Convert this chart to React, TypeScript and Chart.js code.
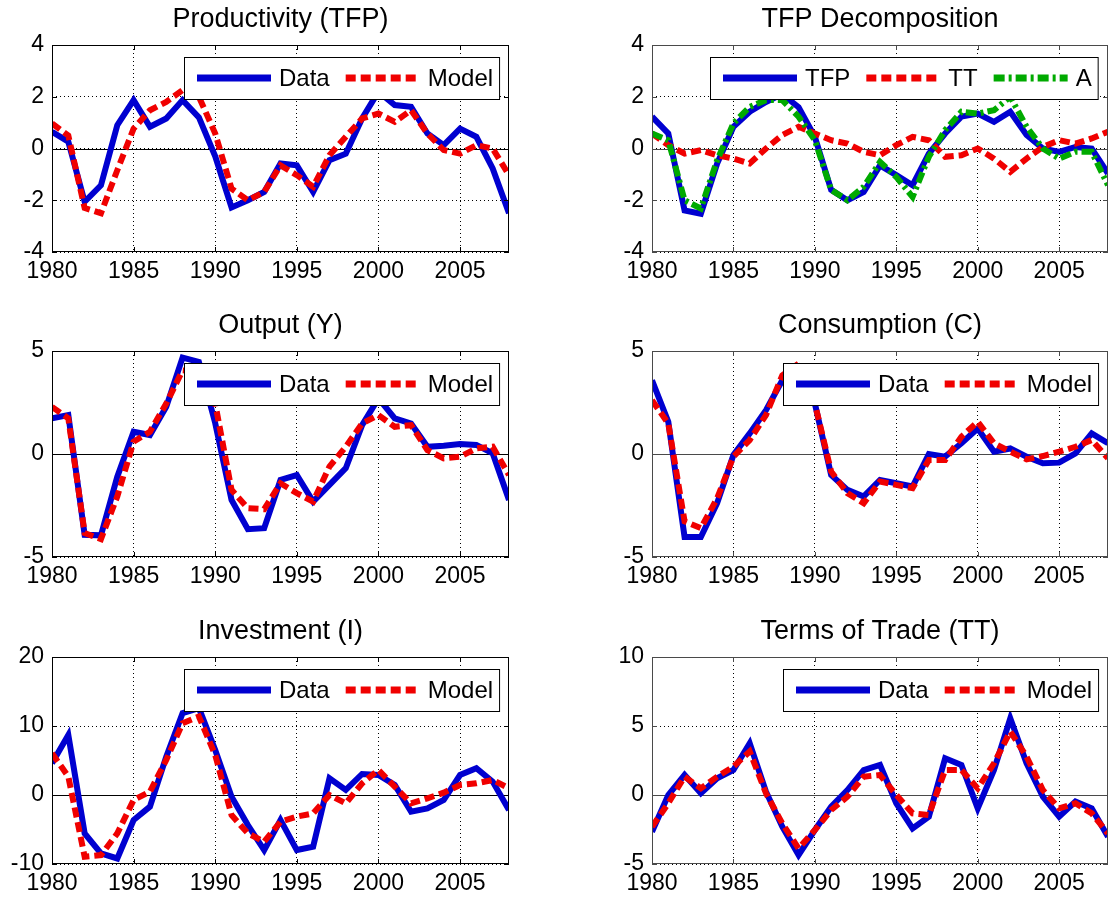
import React, { useEffect, useRef } from 'react';
import { Chart, registerables } from 'chart.js';

Chart.register(...registerables);

// ---------- data ----------
const years = [1980, 1981, 1982, 1983, 1984, 1985, 1986, 1987, 1988, 1989, 1990, 1991, 1992, 1993, 1994, 1995, 1996, 1997, 1998, 1999, 2000, 2001, 2002, 2003, 2004, 2005, 2006, 2007, 2008];
const xTicks = [1980, 1985, 1990, 1995, 2000, 2005];

const tfpData = [0.65, 0.26, -2.06, -1.42, 0.9, 1.87, 0.84, 1.16, 1.87, 1.2, -0.3, -2.28, -2.0, -1.68, -0.58, -0.65, -1.68, -0.45, -0.2, 1.16, 2.2, 1.68, 1.61, 0.58, 0.13, 0.77, 0.45, -0.77, -2.5];
const tfpModel = [0.97, 0.5, -2.3, -2.5, -0.84, 0.77, 1.48, 1.8, 2.26, 2.0, 0.58, -1.55, -2.0, -1.68, -0.65, -1.03, -1.48, -0.26, 0.45, 1.16, 1.35, 1.03, 1.48, 0.58, -0.06, -0.2, 0.13, 0.0, -1.03];

const decompTFP = [1.23, 0.58, -2.39, -2.52, -0.58, 0.84, 1.42, 1.8, 2.1, 1.6, 0.45, -1.6, -2.0, -1.68, -0.65, -1.03, -1.42, -0.2, 0.58, 1.23, 1.35, 1.03, 1.42, 0.52, 0.0, -0.13, 0.06, 0.0, -0.97];
const decompTT = [0.58, 0.13, -0.2, -0.06, -0.26, -0.39, -0.58, 0.0, 0.52, 0.84, 0.58, 0.32, 0.19, -0.13, -0.26, 0.13, 0.45, 0.32, -0.32, -0.26, 0.0, -0.39, -0.9, -0.39, 0.06, 0.32, 0.19, 0.39, 0.65];
const decompA = [0.58, 0.32, -2.0, -2.32, -0.45, 0.97, 1.61, 1.87, 1.87, 1.23, 0.32, -1.6, -2.0, -1.48, -0.52, -1.1, -1.87, -0.32, 0.71, 1.42, 1.35, 1.48, 2.0, 0.84, 0.0, -0.39, -0.13, -0.13, -1.42];

const outputData = [1.73, 1.89, -3.92, -3.95, -1.1, 1.08, 0.92, 2.29, 4.68, 4.47, 1.5, -2.23, -3.65, -3.6, -1.26, -1.02, -2.31, -1.5, -0.69, 1.4, 2.7, 1.73, 1.48, 0.35, 0.4, 0.48, 0.44, 0.03, -2.23];
const outputModel = [2.29, 1.73, -3.84, -4.13, -2.06, 0.6, 1.08, 2.45, 4.06, 4.0, 2.45, -1.74, -2.63, -2.68, -1.42, -1.9, -2.31, -0.61, 0.35, 1.48, 1.89, 1.32, 1.4, 0.19, -0.21, -0.13, 0.27, 0.35, -1.02];

const consData = [3.58, 1.56, -4.03, -4.03, -2.39, -0.05, 1.0, 2.13, 3.58, 4.2, 2.45, -1.02, -1.74, -2.06, -1.26, -1.42, -1.58, 0.0, -0.13, 0.52, 1.24, 0.11, 0.27, -0.13, -0.45, -0.42, 0.03, 1.0, 0.52];
const consModel = [2.61, 1.48, -3.27, -3.6, -2.15, -0.13, 0.68, 1.89, 3.82, 4.39, 2.45, -0.85, -1.9, -2.39, -1.34, -1.5, -1.66, -0.29, -0.29, 0.84, 1.56, 0.52, 0.11, -0.26, -0.1, 0.11, 0.35, 0.68, -0.21];

const invData = [4.6, 8.7, -5.56, -8.47, -9.2, -3.63, -1.69, 5.56, 11.85, 12.6, 6.53, -0.24, -4.35, -7.98, -3.63, -7.98, -7.5, 2.42, 0.73, 3.05, 2.9, 1.45, -2.42, -1.94, -0.73, 2.9, 3.87, 1.94, -2.18];
const invModel = [6.05, 2.66, -8.95, -8.71, -5.56, -0.73, 0.48, 5.08, 10.4, 11.37, 5.8, -2.9, -5.56, -6.77, -3.87, -3.14, -2.66, 0.0, -1.21, 1.69, 3.63, 1.21, -1.21, -0.48, 0.34, 1.45, 1.69, 2.18, 0.97];

const ttData = [-2.66, 0.0, 1.45, 0.12, 1.21, 1.81, 3.75, 0.24, -2.3, -4.35, -2.54, -0.85, 0.36, 1.81, 2.18, -0.6, -2.42, -1.57, 2.66, 2.18, -0.97, 1.81, 5.56, 2.3, -0.12, -1.57, -0.48, -0.97, -3.02];
const ttModel = [-2.3, -0.6, 1.33, 0.48, 1.33, 2.06, 3.15, 0.12, -2.06, -3.87, -2.54, -1.09, -0.12, 1.33, 1.45, 0.0, -1.33, -1.45, 1.81, 1.81, 0.48, 2.3, 4.6, 2.78, 0.36, -0.97, -0.6, -1.33, -2.78];

const yTicksTFP = [-4, -2, 0, 2, 4];
const yTicksDecomp = [-4, -2, 0, 2, 4];
const yTicksOutput = [-5, 0, 5];
const yTicksCons = [-5, 0, 5];
const yTicksInv = [-10, 0, 10, 20];
const yTicksTT = [-5, 0, 5, 10];

const titles = ['Productivity (TFP)', 'TFP Decomposition', 'Output (Y)', 'Consumption (C)', 'Investment (I)', 'Terms of Trade (TT)'];

// ---------- styles ----------
const BLUE = '#0000D0';
const RED = '#F00000';
const GREEN = '#00AA00';
const FONT = "'Liberation Sans', Arial, sans-serif";
const LINE_W = 6;

const solid = { color: BLUE, dash: [] as number[] };
const dashed = { color: RED, dash: [10, 5] };
const dashDot = { color: GREEN, dash: [11, 4, 3, 4] };

type Series = { label: string; data: number[]; style: { color: string; dash: number[] }; order: number };
type PanelCfg = { title: string; yTicks: number[]; series: Series[]; col: number; row: number };

const dm = (d: number[], m: number[]): Series[] => [
  { label: 'Data', data: d, style: solid, order: 2 },
  { label: 'Model', data: m, style: dashed, order: 1 },
];

const panels: PanelCfg[] = [
  { title: titles[0], yTicks: yTicksTFP, series: dm(tfpData, tfpModel), col: 0, row: 0 },
  {
    title: titles[1], yTicks: yTicksDecomp, col: 1, row: 0,
    series: [
      { label: 'TFP', data: decompTFP, style: solid, order: 3 },
      { label: 'TT', data: decompTT, style: dashed, order: 2 },
      { label: 'A', data: decompA, style: dashDot, order: 1 },
    ],
  },
  { title: titles[2], yTicks: yTicksOutput, series: dm(outputData, outputModel), col: 0, row: 1 },
  { title: titles[3], yTicks: yTicksCons, series: dm(consData, consModel), col: 1, row: 1 },
  { title: titles[4], yTicks: yTicksInv, series: dm(invData, invModel), col: 0, row: 2 },
  { title: titles[5], yTicks: yTicksTT, series: dm(ttData, ttModel), col: 1, row: 2 },
];

// ---------- layout ----------
const CELL_W = 556;
const ROW_TOP = [0, 300, 600];
const ROW_H = [300, 300, 303];
const AREA_TOP = [45, 51, 57];
const AREA_BOTTOM = [252, 257, 264];
const AREA_LEFT = [52, 96];
const AREA_RIGHT = [509, 552];
const Y_AXIS_W = 50;
const X_AXIS_H = 30;
const BOX_COLOR = ['#000000', '#4a4a4a'];

const framePlugin = {
  id: 'frame',
  beforeDatasetsDraw(chart: any, _args: any, opts: any) {
    const { ctx, chartArea, scales } = chart;
    const y0 = Math.round(scales.y.getPixelForValue(0)) + 0.5;
    ctx.save();
    ctx.strokeStyle = opts.boxColor;
    ctx.lineWidth = 1;
    ctx.beginPath();
    ctx.moveTo(chartArea.left, y0);
    ctx.lineTo(chartArea.right, y0);
    ctx.stroke();
    ctx.restore();
  },
  afterDatasetsDraw(chart: any, _args: any, opts: any) {
    const { ctx, chartArea, scales } = chart;
    const { left, right, top, bottom } = chartArea;
    ctx.save();
    // axes box
    ctx.strokeStyle = opts.boxColor;
    ctx.lineWidth = 1;
    ctx.strokeRect(left + 0.5, top + 0.5, right - left - 1, bottom - top - 1);
    // inward tick marks
    const TL = 5;
    ctx.beginPath();
    scales.x.ticks.forEach((t: any) => {
      const px = Math.round(scales.x.getPixelForValue(t.value)) + 0.5;
      ctx.moveTo(px, bottom); ctx.lineTo(px, bottom - TL);
      ctx.moveTo(px, top); ctx.lineTo(px, top + TL);
    });
    scales.y.ticks.forEach((t: any) => {
      const py = Math.round(scales.y.getPixelForValue(t.value)) + 0.5;
      ctx.moveTo(left, py); ctx.lineTo(left + TL, py);
      ctx.moveTo(right, py); ctx.lineTo(right - TL, py);
    });
    ctx.stroke();

    // legend
    const ds = chart.data.datasets;
    ctx.font = `24px ${FONT}`;
    const padL = 13, lineLen = 74, gapText = 8, itemGap = 16, padR = 6, boxH = 42;
    const widths = ds.map((d: any) => ctx.measureText(d.label).width);
    let boxW = padL + padR;
    widths.forEach((w: number, i: number) => { boxW += lineLen + gapText + w + (i < ds.length - 1 ? itemGap : 0); });
    const bx = Math.round(right - 10 - boxW);
    const by = top + 12;
    ctx.fillStyle = '#fff';
    ctx.fillRect(bx, by, boxW, boxH);
    ctx.strokeStyle = '#000';
    ctx.lineWidth = 1;
    ctx.strokeRect(bx + 0.5, by + 0.5, boxW, boxH);
    const cy = by + boxH / 2;
    let x = bx + padL;
    ds.forEach((d: any, i: number) => {
      ctx.save();
      ctx.strokeStyle = d.borderColor;
      ctx.lineWidth = d.borderWidth + 1;
      ctx.setLineDash(d.borderDash || []);
      ctx.beginPath();
      ctx.moveTo(x, cy);
      ctx.lineTo(x + lineLen, cy);
      ctx.stroke();
      ctx.restore();
      x += lineLen + gapText;
      ctx.fillStyle = '#000';
      ctx.textBaseline = 'middle';
      ctx.textAlign = 'left';
      ctx.fillText(d.label, x, cy + 1);
      x += widths[i] + itemGap;
    });
    ctx.restore();
  },
  afterDraw(chart: any, _args: any, opts: any) {
    const { ctx, chartArea } = chart;
    ctx.save();
    ctx.font = `27px ${FONT}`;
    ctx.fillStyle = '#000';
    ctx.textAlign = 'center';
    ctx.textBaseline = 'alphabetic';
    ctx.fillText(opts.title, (chartArea.left + chartArea.right) / 2, chartArea.top - 18);
    ctx.restore();
  },
};

function Panel({ cfg }: { cfg: PanelCfg }) {
  const ref = useRef<HTMLCanvasElement>(null);
  const w = CELL_W;
  const h = ROW_H[cfg.row];
  useEffect(() => {
    const padLeft = AREA_LEFT[cfg.col] - Y_AXIS_W;
    const padRight = w - AREA_RIGHT[cfg.col];
    const padTop = AREA_TOP[cfg.row];
    const padBottom = h - AREA_BOTTOM[cfg.row] - X_AXIS_H;
    const yMin = cfg.yTicks[0];
    const yMax = cfg.yTicks[cfg.yTicks.length - 1];
    const tickFont = { family: FONT, size: 23 };
    const chart = new Chart(ref.current as HTMLCanvasElement, {
      type: 'line',
      data: {
        datasets: cfg.series.map((s) => ({
          label: s.label,
          data: years.map((yr, i) => ({ x: yr, y: s.data[i] })),
          borderColor: s.style.color,
          backgroundColor: s.style.color,
          borderWidth: LINE_W,
          borderDash: s.style.dash,
          pointRadius: 0,
          pointHoverRadius: 0,
          tension: 0,
          fill: false,
          order: s.order,
          clip: 0,
        })),
      },
      options: {
        responsive: false,
        animation: false,
        devicePixelRatio: 1,
        events: [],
        layout: { padding: { left: padLeft, right: padRight, top: padTop, bottom: padBottom } },
        plugins: {
          legend: { display: false },
          title: { display: false },
          tooltip: { enabled: false },
          frame: { title: cfg.title, boxColor: BOX_COLOR[cfg.col] },
        } as any,
        scales: {
          x: {
            type: 'linear',
            min: 1980,
            max: 2008,
            afterBuildTicks: (s: any) => { s.ticks = xTicks.map((v) => ({ value: v })); },
            afterFit: (s: any) => { s.height = X_AXIS_H; },
            grid: { color: '#000', lineWidth: 1, drawTicks: false },
            border: { display: false, dash: [1, 3] },
            ticks: { font: tickFont, color: '#000', padding: 6, maxRotation: 0, autoSkip: false, callback: (v: any) => String(v) },
          },
          y: {
            type: 'linear',
            min: yMin,
            max: yMax,
            afterBuildTicks: (s: any) => { s.ticks = cfg.yTicks.map((v) => ({ value: v })); },
            afterFit: (s: any) => { s.width = Y_AXIS_W; },
            grid: { color: '#000', lineWidth: 1, drawTicks: false },
            border: { display: false, dash: [1, 3] },
            ticks: { font: tickFont, color: '#000', padding: 8, autoSkip: false, callback: (v: any) => String(v) },
          },
        },
      } as any,
      plugins: [framePlugin as any],
    });
    return () => chart.destroy();
  }, []);
  return (
    <canvas
      ref={ref}
      width={w}
      height={h}
      style={{ position: 'absolute', left: cfg.col * CELL_W, top: ROW_TOP[cfg.row], width: w, height: h }}
    />
  );
}

export default function App() {
  return (
    <div style={{ position: 'absolute', left: 0, top: 0, width: 1112, height: 903, background: '#fff', overflow: 'hidden' }}>
      {panels.map((p, i) => (
        <Panel key={i} cfg={p} />
      ))}
    </div>
  );
}
